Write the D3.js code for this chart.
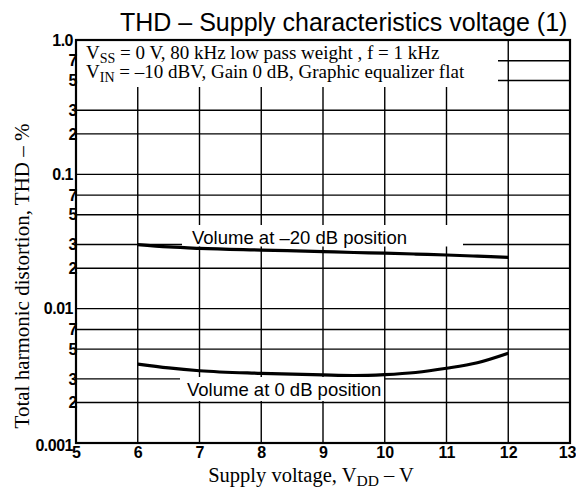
<!DOCTYPE html>
<html>
<head>
<meta charset="utf-8">
<script src="https://cdn.jsdelivr.net/npm/d3@7/dist/d3.min.js"></script>
<style>
  html, body { margin: 0; padding: 0; background: #fff; }
  svg { display: block; }
  .serif { font-family: "Liberation Serif", "Times New Roman", serif; }
  .tick-lbl { font-family: "Liberation Sans", Arial, sans-serif; font-weight: bold; }
</style>
</head>
<body>
<svg id="chart" width="576" height="497"></svg>
<script>
// Supply voltage (V) sampled along each curve
const supplyVolts = [6, 6.5, 7, 8, 9, 9.5, 10, 10.5, 11, 11.5, 12];
// THD (%) with volume at -20 dB position
const thdMinus20dB = [0.0300, 0.0288, 0.0281, 0.0273, 0.0266, 0.0262, 0.0259, 0.0255, 0.0251, 0.0246, 0.0241];
// THD (%) with volume at 0 dB position
const thd0dB = [0.00387, 0.00362, 0.00345, 0.00330, 0.00321, 0.00318, 0.00323, 0.00335, 0.00360, 0.00396, 0.00466];

const xTicks = [5, 6, 7, 8, 9, 10, 11, 12, 13];
const yTicks = [1, 0.7, 0.5, 0.3, 0.2, 0.1, 0.07, 0.05, 0.03, 0.02, 0.01, 0.007, 0.005, 0.003, 0.002, 0.001];
const yTickLabels = ["1.0", "7", "5", "3", "2", "0.1", "7", "5", "3", "2", "0.01", "7", "5", "3", "2", "0.001"];
const yMajor = [1, 0.1, 0.01, 0.001];

const svg = d3.select("#chart");
const L = 76, R = 570, T = 40, B = 443;

const x = d3.scaleLinear().domain([5, 13]).range([L, R]);
const y = d3.scaleLog().domain([0.001, 1]).range([B, T]);

// grid
const grid = svg.append("g").attr("stroke", "#000").attr("stroke-width", 1.4);
grid.selectAll("line.h")
  .data(yTicks.filter(v => v !== 1 && v !== 0.001))
  .join("line")
  .attr("x1", L).attr("x2", R)
  .attr("y1", d => y(d)).attr("y2", d => y(d));
grid.selectAll("line.v")
  .data(xTicks.filter(v => v !== 5 && v !== 13))
  .join("line")
  .attr("y1", T).attr("y2", B)
  .attr("x1", d => x(d)).attr("x2", d => x(d));

// white panels behind the text blocks
svg.append("rect").attr("x", L + 1).attr("y", T + 1).attr("width", 497 - L).attr("height", 87 - T - 1).attr("fill", "#fff");
svg.append("rect").attr("x", 182).attr("y", 225).attr("width", 281).attr("height", 21.5).attr("fill", "#fff");
svg.append("rect").attr("x", 180).attr("y", 377).attr("width", 204).attr("height", 24).attr("fill", "#fff");

// frame
svg.append("rect").attr("x", L).attr("y", T).attr("width", R - L).attr("height", B - T)
  .attr("fill", "none").attr("stroke", "#000").attr("stroke-width", 2.2);

// curves
const line = d3.line().curve(d3.curveMonotoneX);
[thdMinus20dB, thd0dB].forEach(series => {
  svg.append("path")
    .attr("d", line(supplyVolts.map((v, i) => [x(v), y(series[i])])))
    .attr("fill", "none").attr("stroke", "#000").attr("stroke-width", 3.2)
    .attr("stroke-linecap", "butt");
});

// y axis labels
const yAxis = d3.axisLeft(y).tickValues(yTicks)
  .tickFormat((d, i) => yTickLabels[i]).tickSize(0).tickPadding(3);
const gy = svg.append("g").attr("transform", `translate(${L},0)`).call(yAxis);
gy.select(".domain").remove();
gy.selectAll("text").attr("class", "tick-lbl").attr("font-size", 16).attr("fill", "#000")
  .attr("letter-spacing", -0.5)
  .attr("x", d => yMajor.includes(d) ? -3 : 1);
gy.selectAll(".tick").filter(d => d === 0.001).select("text").attr("dy", "0.45em");

// x axis labels
const xAxis = d3.axisBottom(x).tickValues(xTicks).tickFormat(d3.format("d")).tickSize(0).tickPadding(4);
const gx = svg.append("g").attr("transform", `translate(0,${B})`).call(xAxis);
gx.select(".domain").remove();
gx.selectAll("text").attr("class", "tick-lbl").attr("font-size", 16).attr("fill", "#000");
gx.selectAll(".tick").filter(d => d === 13).select("text")
  .attr("text-anchor", "end").attr("x", 576 - R);

// title
svg.append("text").attr("x", 120).attr("y", 31)
  .attr("font-family", "Liberation Sans, Arial, sans-serif").attr("font-size", 25)
  .text("THD – Supply characteristics voltage (1)");

// conditions
const cond1 = svg.append("text").attr("class", "serif").attr("x", 86).attr("y", 59).attr("font-size", 19);
cond1.append("tspan").text("V");
cond1.append("tspan").attr("font-size", 14).attr("dy", 4).text("SS");
cond1.append("tspan").attr("dy", -4).text(" = 0 V, 80 kHz low pass weight , f = 1 kHz");
const cond2 = svg.append("text").attr("class", "serif").attr("x", 86).attr("y", 78).attr("font-size", 19);
cond2.append("tspan").text("V");
cond2.append("tspan").attr("font-size", 14).attr("dy", 4).text("IN");
cond2.append("tspan").attr("dy", -4).text(" = –10 dBV, Gain 0 dB, Graphic equalizer flat");

// curve labels
svg.append("text").attr("x", 192).attr("y", 244)
  .attr("font-family", "Liberation Sans, Arial, sans-serif").attr("font-size", 18.5)
  .text("Volume at –20 dB position");
svg.append("text").attr("x", 187).attr("y", 396)
  .attr("font-family", "Liberation Sans, Arial, sans-serif").attr("font-size", 18.5)
  .text("Volume at 0 dB position");

// axis titles
const xt = svg.append("text").attr("class", "serif").attr("x", 311).attr("y", 482)
  .attr("text-anchor", "middle").attr("font-size", 20.5);
xt.append("tspan").text("Supply voltage, V");
xt.append("tspan").attr("font-size", 15.5).attr("dy", 4).text("DD");
xt.append("tspan").attr("dy", -4).text(" – V");

svg.append("text").attr("class", "serif")
  .attr("transform", "translate(29,276) rotate(-90)")
  .attr("text-anchor", "middle").attr("font-size", 21)
  .text("Total harmonic distortion, THD – %");
</script>
</body>
</html>
